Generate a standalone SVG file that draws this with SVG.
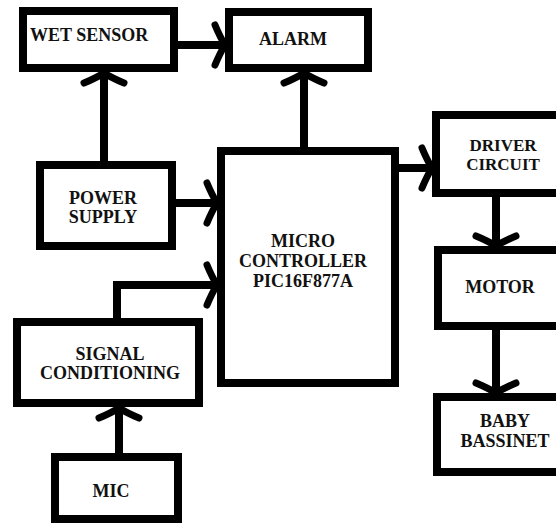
<svg xmlns="http://www.w3.org/2000/svg" width="556" height="524" viewBox="0 0 556 524">
<style>
.box{fill:#fff;stroke:#000;stroke-width:8}
.lbl{font-family:'Liberation Serif','DejaVu Serif','Times New Roman',serif;font-weight:bold;font-size:18px;fill:#111;text-anchor:middle}
.conn{fill:none;stroke:#000;stroke-width:8;marker-end:url(#arr)}
</style>
<defs>
<marker id="arr" markerUnits="userSpaceOnUse" viewBox="-16 -26 22 52" markerWidth="22" markerHeight="52" refX="0" refY="0" orient="auto" overflow="visible">
<path d="M -10 -20 Q -5 -8 0 0 Q -5 8 -10 20" fill="none" stroke="#000" stroke-width="7" stroke-linecap="round" stroke-linejoin="round"/>
</marker>
</defs>
<rect width="556" height="524" fill="#fff"/>
<g id="connectors">
<path class="conn" d="M104 161 L104 73"/>
<path class="conn" d="M178 45 L225 45"/>
<path class="conn" d="M304 147 L304 73"/>
<path class="conn" d="M176 203 L217 203"/>
<path class="conn" d="M117 318 L117 285 L217 285"/>
<path class="conn" d="M119 453 L119 408"/>
<path class="conn" d="M399 168 L432 168"/>
<path class="conn" d="M496 197 L496 246"/>
<path class="conn" d="M496 330 L496 393"/>
</g>
<g id="wet-sensor">
<rect class="box" x="23" y="11" width="151" height="57"/>
<text class="lbl" x="30" y="41" text-anchor="start" style="text-anchor:start" font-family="Liberation Serif, DejaVu Serif, serif">WET SENSOR</text>
</g>
<g id="alarm">
<rect class="box" x="229" y="12" width="139" height="56"/>
<text class="lbl" x="293" y="45" font-family="Liberation Serif, DejaVu Serif, serif">ALARM</text>
</g>
<g id="power-supply">
<rect class="box" x="40" y="165" width="132" height="81"/>
<text class="lbl" x="103" y="204" font-family="Liberation Serif, DejaVu Serif, serif">POWER</text>
<text class="lbl" x="103" y="223" font-family="Liberation Serif, DejaVu Serif, serif">SUPPLY</text>
</g>
<g id="micro-controller">
<rect class="box" x="221" y="151" width="174" height="232"/>
<text class="lbl" x="303" y="247" font-family="Liberation Serif, DejaVu Serif, serif">MICRO</text>
<text class="lbl" x="303" y="267" font-family="Liberation Serif, DejaVu Serif, serif">CONTROLLER</text>
<text class="lbl" x="303" y="287" font-family="Liberation Serif, DejaVu Serif, serif">PIC16F877A</text>
</g>
<g id="signal-conditioning">
<rect class="box" x="17" y="322" width="182" height="81"/>
<text class="lbl" x="110" y="360" font-family="Liberation Serif, DejaVu Serif, serif">SIGNAL</text>
<text class="lbl" x="110" y="379" font-family="Liberation Serif, DejaVu Serif, serif">CONDITIONING</text>
</g>
<g id="mic">
<rect class="box" x="55" y="457" width="123" height="62"/>
<text class="lbl" x="111" y="497" font-family="Liberation Serif, DejaVu Serif, serif">MIC</text>
</g>
<g id="driver-circuit">
<rect class="box" x="436" y="115" width="140" height="78"/>
<text class="lbl" x="503" y="151" font-size="17" style="font-size:17px" font-family="Liberation Serif, DejaVu Serif, serif">DRIVER</text>
<text class="lbl" x="503" y="170" font-size="17" style="font-size:17px" font-family="Liberation Serif, DejaVu Serif, serif">CIRCUIT</text>
</g>
<g id="motor">
<rect class="box" x="438" y="250" width="140" height="76"/>
<text class="lbl" x="500" y="293" font-family="Liberation Serif, DejaVu Serif, serif">MOTOR</text>
</g>
<g id="baby-bassinet">
<rect class="box" x="437" y="397" width="140" height="75"/>
<text class="lbl" x="505" y="427" font-family="Liberation Serif, DejaVu Serif, serif">BABY</text>
<text class="lbl" x="505" y="447" font-family="Liberation Serif, DejaVu Serif, serif">BASSINET</text>
</g>
</svg>
